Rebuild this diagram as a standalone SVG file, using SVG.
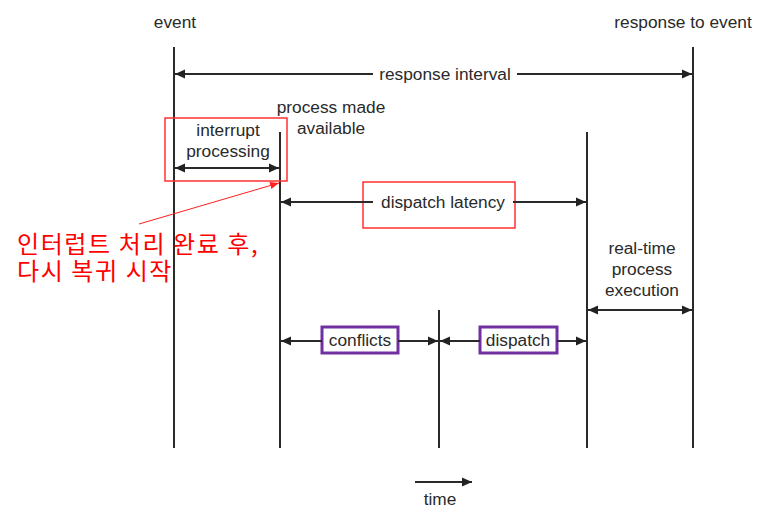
<svg xmlns="http://www.w3.org/2000/svg" width="758" height="516" viewBox="0 0 758 516">
<defs>
<marker id="ah" viewBox="0 0 10 10" refX="10" refY="5" markerWidth="10" markerHeight="10" markerUnits="userSpaceOnUse" orient="auto-start-reverse">
<path d="M0,0.5 L10,5 L0,9.5 z" fill="#222"/>
</marker>
<marker id="ahr" viewBox="0 0 10 10" refX="10" refY="5" markerWidth="9" markerHeight="9" markerUnits="userSpaceOnUse" orient="auto">
<path d="M0,1 L10,5 L0,9 z" fill="#ff2020"/>
</marker>
<style>
.t{font-family:"Liberation Sans",Arial,sans-serif;font-size:17.3px;fill:#2a2a2a;text-anchor:middle}
.k{font-family:"Noto Sans CJK KR","Liberation Sans",sans-serif;font-size:24px;fill:#ff0000;letter-spacing:1.6px}
.v{stroke:#2a2a2a;stroke-width:2;fill:none}
.a{stroke:#2a2a2a;stroke-width:2;fill:none}
.rb{fill:none;stroke:#ff3030;stroke-width:1.5}
.pb{fill:none;stroke:#7030a0;stroke-width:3}
</style>
</defs>
<rect width="758" height="516" fill="#fff"/>
<g id="timelines">
<line class="v" x1="174" y1="47" x2="174" y2="448"/>
<line class="v" x1="693" y1="47" x2="693" y2="448"/>
<line class="v" x1="280" y1="132" x2="280" y2="448"/>
<line class="v" x1="587" y1="132" x2="587" y2="448"/>
<line class="v" x1="439" y1="310" x2="439" y2="448"/>
</g>
<g id="event"><text class="t" x="175" y="28">event</text></g>
<g id="response-to-event"><text class="t" x="683" y="28">response to event</text></g>
<g id="process-made-available"><text class="t" x="331" y="113">process made</text><text class="t" x="331" y="134">available</text></g>
<g id="interrupt-processing">
<rect class="rb" x="165" y="118" width="122" height="63"/>
<text class="t" x="228" y="136">interrupt</text><text class="t" x="228" y="157">processing</text>
</g>
<g id="response-interval"><text class="t" x="445" y="80">response interval</text></g>
<g id="dispatch-latency">
<rect class="rb" x="363" y="182" width="152" height="46"/>
<text class="t" x="443" y="208">dispatch latency</text>
</g>
<g id="real-time-process-execution">
<text class="t" x="642" y="254">real-time</text><text class="t" x="642" y="275">process</text><text class="t" x="642" y="296">execution</text>
</g>
<g id="conflicts">
<rect class="pb" x="322" y="327" width="76" height="26"/>
<text class="t" x="360" y="346">conflicts</text>
</g>
<g id="dispatch">
<rect class="pb" x="480" y="327" width="77" height="26"/>
<text class="t" x="518" y="346">dispatch</text>
</g>
<g id="time"><text class="t" x="440" y="505">time</text></g>
<g id="annotation">
<text class="k"><tspan x="17" y="253">인터럽트 처리 완료 후,</tspan><tspan x="17" y="280">다시 복귀 시작</tspan></text>
</g>
<g id="connectors">
<line class="a" x1="175" y1="74" x2="373" y2="74" marker-start="url(#ah)"/>
<line class="a" x1="517" y1="74" x2="692" y2="74" marker-end="url(#ah)"/>
<line class="a" x1="175" y1="168" x2="279" y2="168" marker-start="url(#ah)" marker-end="url(#ah)"/>
<line class="a" x1="281" y1="202" x2="373" y2="202" marker-start="url(#ah)"/>
<line class="a" x1="513" y1="202" x2="586" y2="202" marker-end="url(#ah)"/>
<line class="a" x1="588" y1="310" x2="692" y2="310" marker-start="url(#ah)" marker-end="url(#ah)"/>
<line class="a" x1="281" y1="341" x2="322" y2="341" marker-start="url(#ah)"/>
<line class="a" x1="398" y1="341" x2="438" y2="341" marker-end="url(#ah)"/>
<line class="a" x1="440" y1="341" x2="480" y2="341" marker-start="url(#ah)"/>
<line class="a" x1="557" y1="341" x2="586" y2="341" marker-end="url(#ah)"/>
<line class="a" x1="415" y1="482" x2="472" y2="482" marker-end="url(#ah)"/>
<line x1="139" y1="224" x2="279" y2="183" stroke="#ff2020" stroke-width="1" marker-end="url(#ahr)"/>
</g>
</svg>
